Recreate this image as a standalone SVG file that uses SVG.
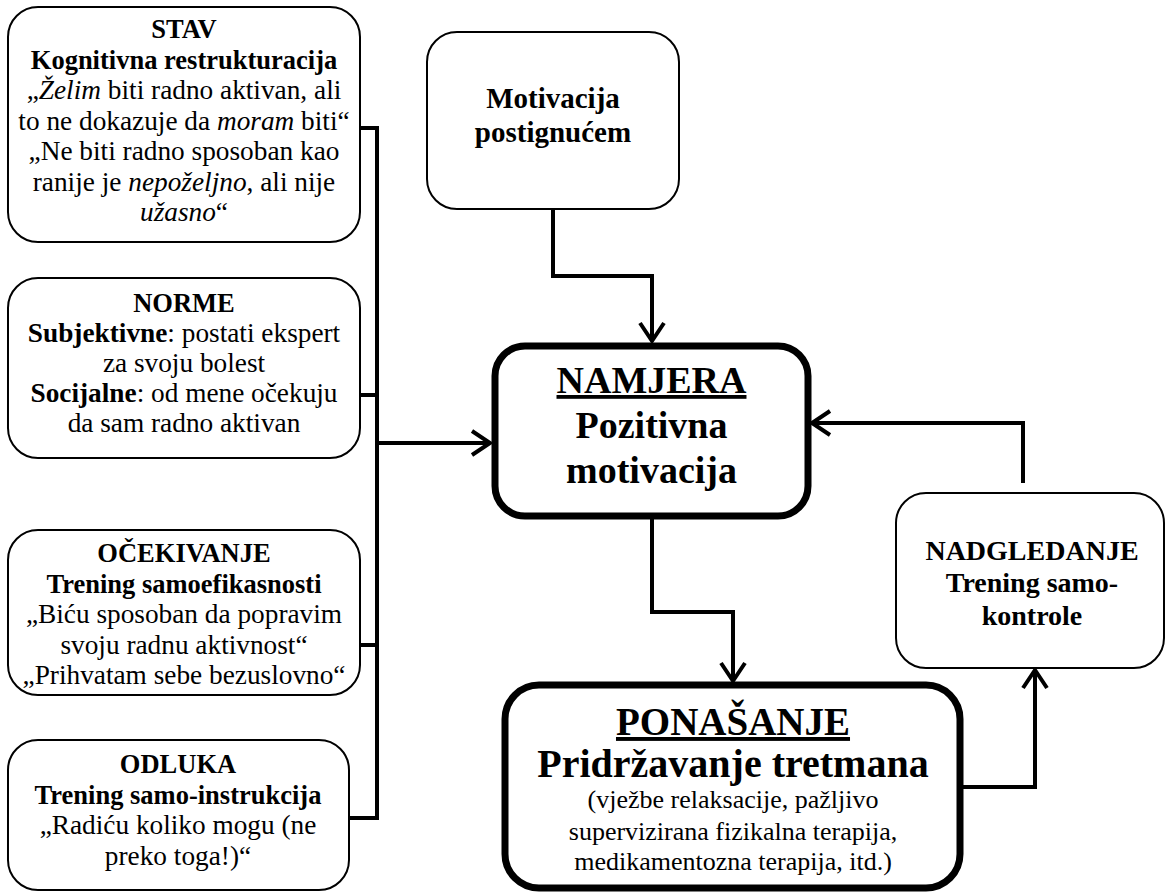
<svg xmlns="http://www.w3.org/2000/svg" width="1169" height="895" viewBox="0 0 1169 895">
<style>
  text { fill: #000; text-anchor: middle; }
  .box { fill: #fff; stroke: #000; stroke-width: 2; }
  .main { fill: #fff; stroke: #000; stroke-width: 7; }
  .t { font-size: 27.3px; }
  .tb { font-size: 26.5px; font-weight: bold; }
  .b { font-weight: bold; }
  .i { font-style: italic; }
  .p { font-size: 26px; }
  .conn { fill: none; stroke: #000; stroke-width: 4; stroke-linejoin: miter; }
</style>
<defs>
  <marker id="arr" viewBox="-22 -16 26 32" markerWidth="26" markerHeight="32" refX="0" refY="0" orient="auto" markerUnits="userSpaceOnUse">
    <path d="M-18,-12 L0,0 L-18,12" fill="none" stroke="#000" stroke-width="4"/>
  </marker>
</defs>
<rect width="1169" height="895" fill="#fff"/>

<g id="connectors">
  <path class="conn" d="M360,128 H377 V818 H349"/>
  <path class="conn" d="M360,395 H377"/>
  <path class="conn" d="M360,645 H377"/>
  <path class="conn" d="M377,443 H490" marker-end="url(#arr)"/>
  <path class="conn" d="M553,209 V276 H652 V341" marker-end="url(#arr)"/>
  <path class="conn" d="M652,519 V612 H733 V681" marker-end="url(#arr)"/>
  <path class="conn" d="M960,787 H1035 V670" marker-end="url(#arr)"/>
  <path class="conn" d="M1023,483 V423 H812" marker-end="url(#arr)"/>
</g>

<g id="stav" font-family="Liberation Serif, serif">
  <rect class="box" x="8" y="7" width="352" height="235" rx="30"/>
  <text class="tb" x="184" y="38">STAV</text>
  <text class="tb" x="184" y="69">Kognitivna restrukturacija</text>
  <text class="t" x="184" y="99">„<tspan class="i">Želim</tspan> biti radno aktivan, ali</text>
  <text class="t" x="184" y="130">to ne dokazuje da <tspan class="i">moram</tspan> biti“</text>
  <text class="t" x="184" y="160">„Ne biti radno sposoban kao</text>
  <text class="t" x="184" y="191">ranije je <tspan class="i">nepoželjno</tspan>, ali nije</text>
  <text class="t" x="184" y="221"><tspan class="i">užasno</tspan>“</text>
</g>

<g id="norme" font-family="Liberation Serif, serif">
  <rect class="box" x="8" y="278" width="352" height="180" rx="30"/>
  <text class="tb" x="184" y="312">NORME</text>
  <text class="t" x="184" y="342"><tspan class="b">Subjektivne</tspan>: postati ekspert</text>
  <text class="t" x="184" y="372">za svoju bolest</text>
  <text class="t" x="184" y="402"><tspan class="b">Socijalne</tspan>: od mene očekuju</text>
  <text class="t" x="184" y="432">da sam radno aktivan</text>
</g>

<g id="ocekivanje" font-family="Liberation Serif, serif">
  <rect class="box" x="8" y="530" width="352" height="165" rx="30"/>
  <text class="tb" x="184" y="562">OČEKIVANJE</text>
  <text class="tb" x="184" y="593">Trening samoefikasnosti</text>
  <text class="t" x="184" y="623">„Biću sposoban da popravim</text>
  <text class="t" x="184" y="654">svoju radnu aktivnost“</text>
  <text class="t" x="184" y="684">„Prihvatam sebe bezuslovno“</text>
</g>

<g id="odluka" font-family="Liberation Serif, serif">
  <rect class="box" x="8" y="740" width="341" height="150" rx="30"/>
  <text class="tb" x="178" y="773">ODLUKA</text>
  <text class="tb" x="178" y="804">Trening samo-instrukcija</text>
  <text class="t" x="178" y="834">„Radiću koliko mogu (ne</text>
  <text class="t" x="178" y="865">preko toga!)“</text>
</g>

<g id="motivacija" font-family="Liberation Serif, serif">
  <rect class="box" x="427" y="32" width="252" height="177" rx="30"/>
  <text class="b" font-size="29" x="553" y="108">Motivacija</text>
  <text class="b" font-size="29" x="553" y="142">postignućem</text>
</g>

<g id="namjera" font-family="Liberation Serif, serif">
  <rect class="main" x="495" y="346" width="313" height="170" rx="30"/>
  <text class="b" font-size="38" x="651.5" y="393" text-decoration="underline">NAMJERA</text>
  <text class="b" font-size="38" x="651.5" y="438">Pozitivna</text>
  <text class="b" font-size="38" x="651.5" y="483">motivacija</text>
</g>

<g id="nadgledanje" font-family="Liberation Serif, serif">
  <rect class="box" x="896" y="493" width="268" height="175" rx="30"/>
  <text class="b" font-size="28" x="1032" y="560">NADGLEDANJE</text>
  <text class="b" font-size="28" x="1032" y="592">Trening samo-</text>
  <text class="b" font-size="28" x="1032" y="625">kontrole</text>
</g>

<g id="ponasanje" font-family="Liberation Serif, serif">
  <rect class="main" x="505" y="685" width="455" height="203" rx="34"/>
  <text class="b" font-size="39" x="733" y="735" text-decoration="underline">PONAŠANJE</text>
  <text class="b" font-size="40" x="733" y="777">Pridržavanje tretmana</text>
  <text class="p" x="733" y="808">(vježbe relaksacije, pažljivo</text>
  <text class="p" x="733" y="840">supervizirana fizikalna terapija,</text>
  <text class="p" x="733" y="870">medikamentozna terapija, itd.)</text>
</g>
</svg>
